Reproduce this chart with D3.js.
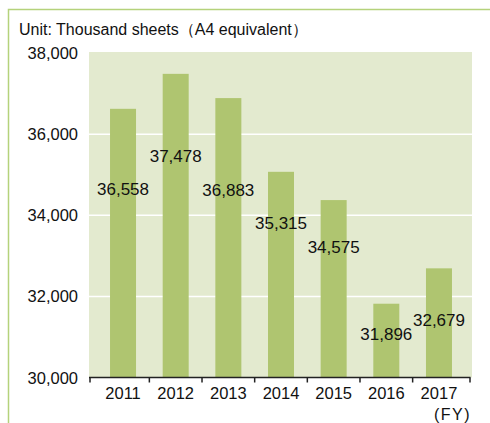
<!DOCTYPE html>
<html>
<head>
<meta charset="utf-8">
<script src="https://cdn.jsdelivr.net/npm/d3@7"></script>
<style>
  html, body { margin: 0; padding: 0; background: #fff; }
  svg { display: block; }
  text { font-family: "Liberation Sans", Arial, sans-serif; fill: #111; }
</style>
</head>
<body>
<script>
// ---- data ----
const categories = ["2011", "2012", "2013", "2014", "2015", "2016", "2017"];
// bar heights as drawn in the reference
const values = [36624, 37486, 36888, 35071, 34374, 31819, 32691];
// printed value labels
const valueLabels = ["36,558", "37,478", "36,883", "35,315", "34,575", "31,896", "32,679"];
const yTicks = [30000, 32000, 34000, 36000, 38000];
const unitLabel = "Unit: Thousand sheets\uFF08A4 equivalent\uFF09";
const axisUnit = "(FY)";

// ---- layout ----
const W = 490, H = 423;
const plot = { left: 89, right: 472, top: 52, bottom: 377.5 };
const labelDy = [81, 83, 92, 52, 47, 31, 52]; // label centre offset below bar top (px)

const svg = d3.select("body").append("svg").attr("width", W).attr("height", H);

// frame
svg.append("path")
  .attr("d", `M8.5,${H} V9.5 H${W}`)
  .attr("fill", "none").attr("stroke", "#b5d27b").attr("stroke-width", 1.5);

const x = d3.scaleBand().domain(categories).range([96.7, 465.3]).paddingInner(0.5).paddingOuter(0.25);
const y = d3.scaleLinear().domain([30000, 38000]).range([plot.bottom, 53]);

// background
svg.append("rect")
  .attr("x", plot.left).attr("y", plot.top)
  .attr("width", plot.right - plot.left).attr("height", plot.bottom - plot.top)
  .attr("fill", "#e3eacf");

// gridlines
svg.append("g").selectAll("line").data(yTicks.filter(d => d > 30000 && d < 38000)).join("line")
  .attr("x1", plot.left).attr("x2", plot.right)
  .attr("y1", d => y(d)).attr("y2", d => y(d))
  .attr("stroke", "#ffffff").attr("stroke-width", 1.5);

// bars
const bw = 26;
svg.append("g").selectAll("rect").data(values).join("rect")
  .attr("x", (d, i) => x(categories[i]) + x.bandwidth() / 2 - bw / 2)
  .attr("width", bw)
  .attr("y", d => y(d))
  .attr("height", d => y(30000) - y(d))
  .attr("fill", "#afc570");

// value labels
svg.append("g").selectAll("text").data(values).join("text")
  .attr("x", (d, i) => x(categories[i]) + x.bandwidth() / 2)
  .attr("y", (d, i) => y(d) + labelDy[i])
  .attr("text-anchor", "middle")
  .attr("dominant-baseline", "central")
  .style("font-size", "17px")
  .text((d, i) => valueLabels[i]);

// y tick labels
svg.append("g").selectAll("text").data(yTicks).join("text")
  .attr("x", 78).attr("y", d => y(d))
  .attr("text-anchor", "end")
  .attr("dominant-baseline", "central")
  .style("font-size", "16.5px")
  .text(d => d3.format(",")(d));

// x axis line and ticks
const step = x.step();
const tickXs = [plot.left + 1];
for (let i = 1; i < categories.length; i++) tickXs.push(x(categories[i]) + x.bandwidth() / 2 - step / 2);
tickXs.push(plot.right - 2);
svg.append("line")
  .attr("x1", plot.left).attr("x2", plot.right - 1.5)
  .attr("y1", plot.bottom).attr("y2", plot.bottom)
  .attr("stroke", "#222").attr("stroke-width", 1.5);
svg.append("g").selectAll("line").data(tickXs).join("line")
  .attr("x1", d => d).attr("x2", d => d)
  .attr("y1", plot.bottom).attr("y2", plot.bottom + 5)
  .attr("stroke", "#222").attr("stroke-width", 1.5);

// x tick labels
svg.append("g").selectAll("text").data(categories).join("text")
  .attr("x", d => x(d) + x.bandwidth() / 2)
  .attr("y", 399)
  .attr("text-anchor", "middle")
  .style("font-size", "16.5px")
  .text(d => d);

// unit labels
svg.append("text")
  .attr("x", 19).attr("y", 35)
  .style("font-size", "16px")
  .text(unitLabel);
svg.append("text")
  .attr("x", 471).attr("y", 420)
  .attr("text-anchor", "end")
  .style("font-size", "16px")
  .style("letter-spacing", "1.5px")
  .text(axisUnit);
</script>
</body>
</html>
